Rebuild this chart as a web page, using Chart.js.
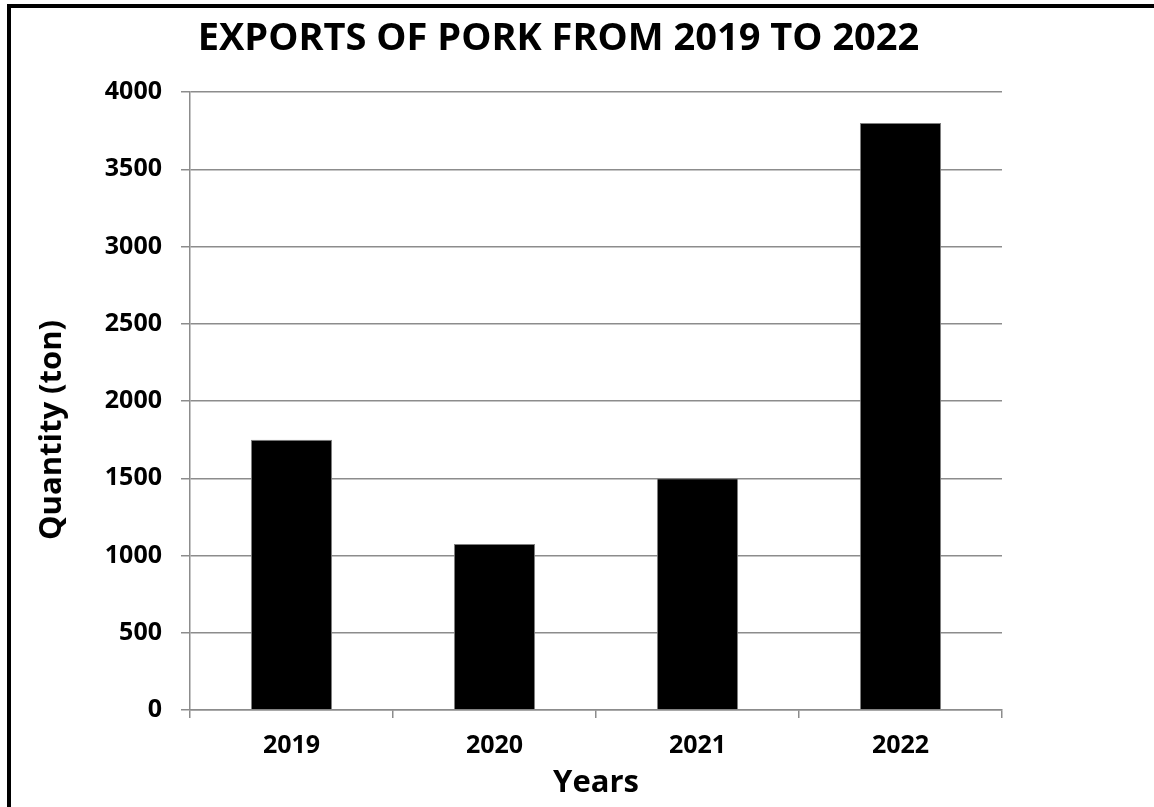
<!DOCTYPE html>
<html>
<head>
<meta charset="utf-8">
<script src="https://cdn.jsdelivr.net/npm/chart.js@4.4.1/dist/chart.umd.min.js"></script>
<style>
  html, body { margin: 0; padding: 0; background: #ffffff; overflow: hidden; }
  #wrap { position: relative; width: 1154px; height: 807px; }
  #frame { position: absolute; left: 7px; top: 4px; width: 1200px; height: 900px;
           border-top: 4px solid #000; border-left: 4px solid #000; pointer-events: none; }
  canvas { position: absolute; left: 0; top: 0; }
</style>
</head>
<body>
<div id="wrap">
  <canvas id="c" width="1154" height="807"></canvas>
  <div id="frame"></div>
</div>
<script>
const categories = ['2019', '2020', '2021', '2022'];
const exportsTon = [1750, 1075, 1500, 3800];
const yTicks = [0, 500, 1000, 1500, 2000, 2500, 3000, 3500, 4000];
const chartTitle = 'EXPORTS OF PORK FROM 2019 TO 2022';
const xTitle = 'Years';
const yTitle = 'Quantity (ton)';

const FONT = '"Open Sans", Lato, "DejaVu Sans", sans-serif';
const GRID = '#8c8c8c';

const yTitlePlugin = {
  id: 'yTitlePlugin',
  afterDraw(chart) {
    const ctx = chart.ctx;
    const area = chart.chartArea;
    const xs = chart.scales.x;
    const cy = (area.top + xs.bottom - 39) / 2;
    ctx.save();
    ctx.translate(area.left - 138, cy);
    ctx.rotate(-Math.PI / 2);
    ctx.font = 'bold 31px ' + FONT;
    ctx.fillStyle = '#000';
    ctx.textAlign = 'center';
    ctx.textBaseline = 'middle';
    ctx.fillText(yTitle, 0, 0);
    ctx.restore();
  }
};

new Chart(document.getElementById('c'), {
  type: 'bar',
  data: {
    labels: categories,
    datasets: [{
      label: 'Exports',
      data: exportsTon,
      backgroundColor: '#000000',
      borderColor: '#808080',
      borderWidth: 1,
      categoryPercentage: 1.0,
      barPercentage: 0.4
    }]
  },
  options: {
    responsive: false,
    animation: false,
    devicePixelRatio: 1,
    layout: { padding: { left: 0, right: 37, top: 0, bottom: 0 } },
    plugins: {
      legend: { display: false },
      tooltip: { enabled: false },
      title: {
        display: true,
        text: chartTitle,
        color: '#000',
        font: { family: FONT, size: 38, weight: 'bold', lineHeight: 1.2 },
        padding: { top: 16, bottom: 30.4 }
      }
    },
    scales: {
      x: {
        grid: {
          display: true,
          drawOnChartArea: false,
          drawTicks: true,
          tickLength: 8,
          color: GRID,
          lineWidth: 1.5,
          offset: true
        },
        border: { display: true, color: GRID, width: 1.5 },
        ticks: {
          color: '#000',
          padding: 13,
          font: { family: FONT, size: 25, weight: 'bold', lineHeight: 1.2 }
        },
        title: {
          display: true,
          text: xTitle,
          color: '#000',
          font: { family: FONT, size: 31, weight: 'bold', lineHeight: 1.2 },
          padding: { top: 0, bottom: 5 }
        },
        afterFit(scale) { scale.height = 97; }
      },
      y: {
        min: 0,
        max: 4000,
        afterBuildTicks(scale) { scale.ticks = yTicks.map(v => ({ value: v })); },
        grid: {
          display: true,
          drawOnChartArea: true,
          drawTicks: true,
          tickLength: 9,
          color: GRID,
          lineWidth: 1.5
        },
        border: { display: true, color: GRID, width: 1.5 },
        ticks: {
          color: '#000',
          padding: 19,
          font: { family: FONT, size: 25, weight: 'bold', lineHeight: 1.2 },
          callback: (value) => String(value)
        },
        afterFit(scale) { scale.width = 190; }
      },
      spacer: {
        type: 'linear',
        position: 'right',
        display: true,
        grid: { display: false, drawTicks: false },
        border: { display: false },
        ticks: { display: false },
        afterFit(scale) { scale.width = 115; }
      }
    }
  },
  plugins: [yTitlePlugin]
});
</script>
</body>
</html>
